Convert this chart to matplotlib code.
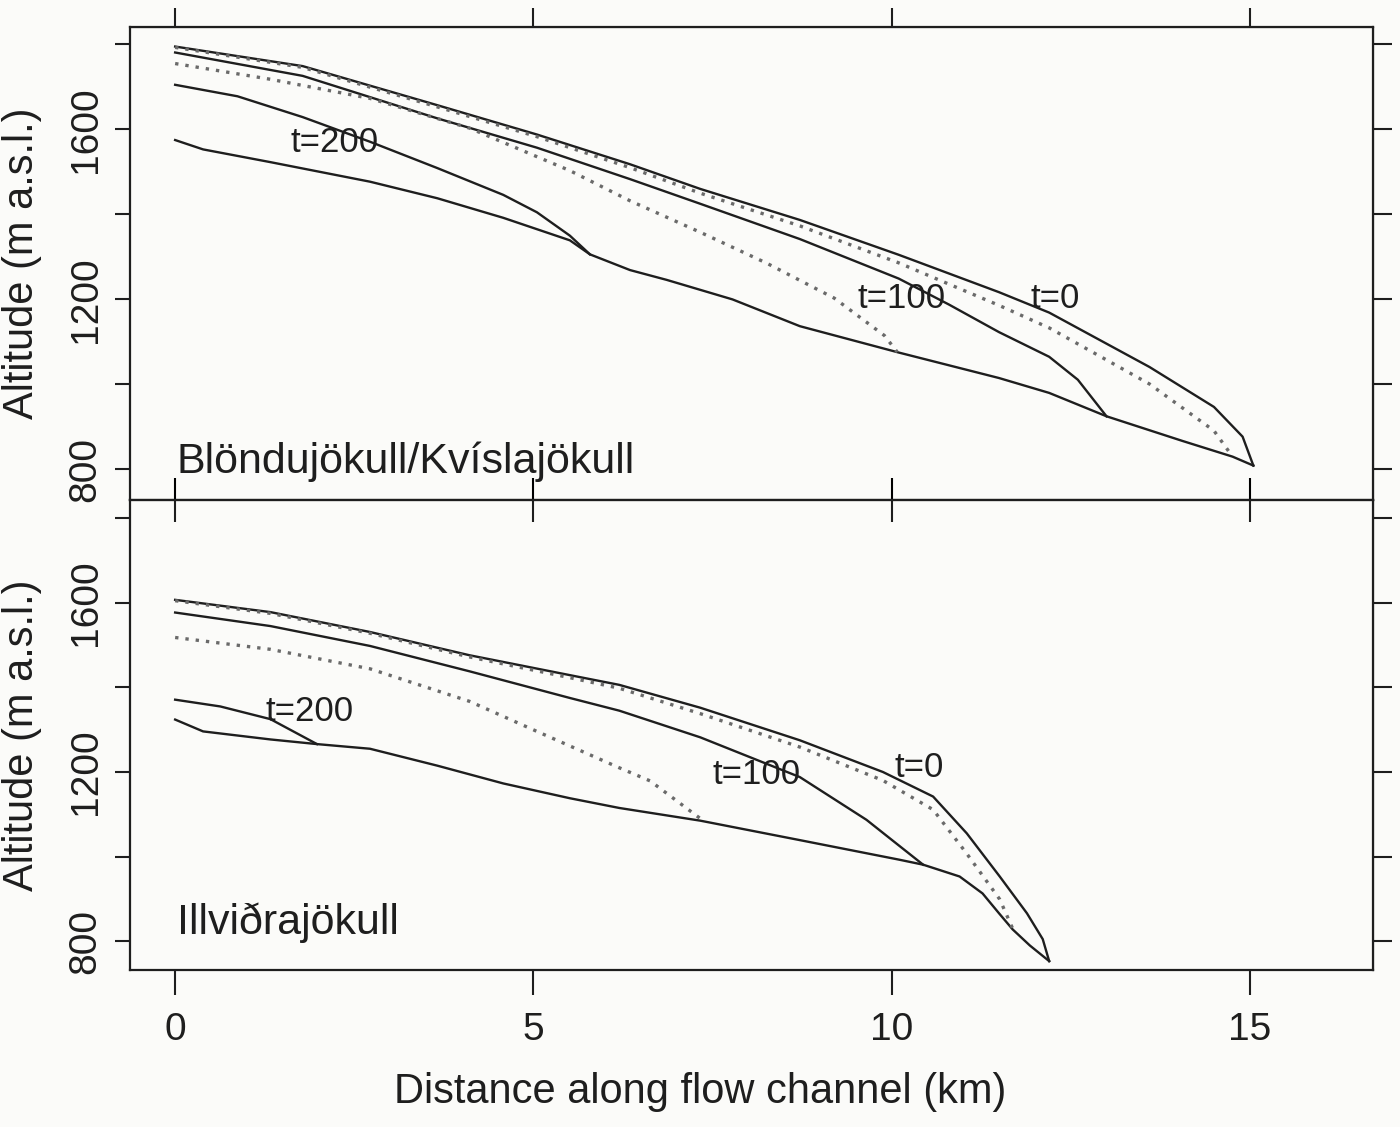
import matplotlib.pyplot as plt

plt.rcParams['font.family'] = ['Liberation Sans', 'DejaVu Sans']

# ---- Blondujokull/Kvislajokull (upper panel), km / m a.s.l.
b_bed_x = [0, 0.39, 1.33, 2.72, 3.66, 4.58, 5.51, 5.79, 6.35, 6.86, 7.78, 8.72, 10.1, 11.5, 12.2, 13.0, 14.06, 14.76, 15.05]
b_bed_y = [1575, 1553, 1523, 1477, 1438, 1392, 1339, 1306, 1269, 1246, 1200, 1137, 1075, 1015, 980, 925, 867, 830, 809]
b_t0_x = [0, 1.78, 3.66, 5.05, 6.35, 7.33, 8.72, 10.1, 11.5, 12.2, 13.6, 14.5, 14.9, 15.05]
b_t0_y = [1795, 1749, 1657, 1588, 1518, 1460, 1387, 1305, 1217, 1169, 1041, 947, 877, 809]
b_t50_x = [0, 1.78, 3.66, 5.05, 6.35, 7.33, 8.72, 10.1, 11.5, 12.2, 13.6, 14.5, 14.76]
b_t50_y = [1793, 1746, 1653, 1583, 1510, 1450, 1373, 1286, 1186, 1133, 1001, 891, 830]
b_t100_x = [0, 1.78, 3.66, 5.05, 6.35, 7.33, 8.72, 10.1, 10.8, 11.5, 12.2, 12.6, 13.0]
b_t100_y = [1781, 1726, 1626, 1557, 1483, 1425, 1342, 1249, 1188, 1123, 1065, 1011, 925]
b_t150_x = [0, 1.33, 2.72, 4.11, 5.51, 6.35, 7.33, 8.26, 9.2, 9.9, 10.08]
b_t150_y = [1755, 1718, 1673, 1603, 1503, 1432, 1358, 1285, 1203, 1115, 1076]
b_t200_x = [0, 0.87, 1.78, 2.72, 3.66, 4.58, 5.05, 5.51, 5.79]
b_t200_y = [1705, 1678, 1629, 1571, 1509, 1446, 1405, 1350, 1306]

# ---- Illvidrajokull (lower panel)
i_bed_x = [0, 0.39, 1.33, 1.98, 2.72, 3.66, 4.58, 5.51, 6.2, 7.33, 8.72, 10.1, 10.44, 10.95, 11.27, 11.5, 11.69, 11.93, 12.2]
i_bed_y = [1324, 1296, 1277, 1266, 1255, 1215, 1173, 1138, 1115, 1085, 1039, 993, 981, 953, 913, 866, 828, 790, 753]
i_t0_x = [0, 1.33, 2.72, 4.11, 5.51, 6.2, 7.33, 8.72, 9.88, 10.58, 11.05, 11.51, 11.89, 12.11, 12.2]
i_t0_y = [1607, 1578, 1531, 1476, 1429, 1406, 1352, 1275, 1200, 1142, 1055, 953, 866, 805, 753]
i_t50_x = [0, 1.33, 2.72, 4.11, 5.51, 6.2, 7.33, 8.72, 9.88, 10.58, 11.05, 11.51, 11.69]
i_t50_y = [1605, 1575, 1528, 1472, 1423, 1398, 1338, 1259, 1180, 1111, 1007, 899, 830]
i_t100_x = [0, 1.33, 2.72, 4.11, 5.51, 6.2, 7.33, 8.72, 9.65, 10.0, 10.44]
i_t100_y = [1577, 1545, 1498, 1438, 1375, 1345, 1282, 1188, 1087, 1040, 981]
i_t150_x = [0, 1.33, 2.72, 4.11, 5.05, 6.2, 6.63, 7.37]
i_t150_y = [1518, 1490, 1444, 1367, 1296, 1210, 1179, 1085]
i_t200_x = [0, 0.63, 1.33, 1.98]
i_t200_y = [1371, 1355, 1325, 1266]

y_ticks = [800, 1000, 1200, 1400, 1600, 1800]
y_labels = ['800', '', '1200', '', '1600', '']
x_ticks = [0, 5, 10, 15]

ink = '#1e1e1e'
dot = '#6a6a6a'
bg = '#fbfbf9'

fig = plt.figure(figsize=(14, 11.27), dpi=100)
fig.patch.set_facecolor(bg)
ax1 = fig.add_axes([130 / 1400, 1 - 500 / 1127, 1243 / 1400, 473 / 1127])
ax2 = fig.add_axes([130 / 1400, 1 - 970 / 1127, 1243 / 1400, 470 / 1127])


def panel(ax, ylim, lines, labels, name, name_y, bottom):
    ax.set_facecolor(bg)
    for x, y, dotted in lines:
        if dotted:
            ax.plot(x, y, color=dot, lw=2.4, ls=(0, (1, 2.1)))
        else:
            ax.plot(x, y, color=ink, lw=1.7, solid_joinstyle='round')
    for txt, x, y in labels:
        ax.text(x, y, txt, fontsize=25, color=ink, ha='center', va='baseline')
    ax.text(0.02, name_y, name, fontsize=31, color=ink, ha='left', va='baseline')
    ax.set_xlim(-0.63, 16.72)
    ax.set_ylim(*ylim)
    for s in ax.spines.values():
        s.set_linewidth(1.6)
        s.set_color(ink)
    ax.set_yticks(y_ticks)
    ax.set_yticklabels(y_labels, rotation=90, va='center')
    ax.tick_params(axis='y', direction='out', length=11, width=1.5, pad=8,
                   labelsize=28, colors=ink)
    ax.set_xticks(x_ticks)
    if bottom:
        ax.tick_params(axis='x', direction='out', length=18, width=1.5, pad=12,
                       labelsize=28, colors=ink)
    else:
        ax.tick_params(axis='x', direction='in', length=16, width=1.5,
                       labelbottom=False)
    top = ax.secondary_xaxis('top')
    top.set_xticks(x_ticks)
    top.set_xticklabels([])
    if bottom:
        top.tick_params(direction='in', length=16, width=1.5, colors=ink)
    else:
        top.tick_params(direction='out', length=14, width=1.5, colors=ink)
    right = ax.secondary_yaxis('right')
    right.set_yticks(y_ticks)
    right.set_yticklabels([])
    right.tick_params(direction='out', length=14, width=1.5, colors=ink)
    ax.text(-0.0865, 0.5, 'Altitude (m a.s.l.)', transform=ax.transAxes,
            rotation=90, fontsize=30, color=ink, ha='center', va='center')


panel(ax1, (728, 1841),
      [(b_bed_x, b_bed_y, False), (b_t0_x, b_t0_y, False), (b_t50_x, b_t50_y, True),
       (b_t100_x, b_t100_y, False), (b_t150_x, b_t150_y, True), (b_t200_x, b_t200_y, False)],
      [('t=200', 2.23, 1547), ('t=100', 10.14, 1179), ('t=0', 12.29, 1180)],
      'Blöndujökull/Kvíslajökull', 792, False)

panel(ax2, (732, 1843),
      [(i_bed_x, i_bed_y, False), (i_t0_x, i_t0_y, False), (i_t50_x, i_t50_y, True),
       (i_t100_x, i_t100_y, False), (i_t150_x, i_t150_y, True), (i_t200_x, i_t200_y, False)],
      [('t=200', 1.88, 1320), ('t=100', 8.12, 1171), ('t=0', 10.38, 1189)],
      'Illviðrajökull', 816, True)

fig.text(0.5, 1 - 1092 / 1127, 'Distance along flow channel (km)', fontsize=30,
         color=ink, ha='center', va='center')

fig.savefig('out.png', dpi=100, facecolor=bg)
